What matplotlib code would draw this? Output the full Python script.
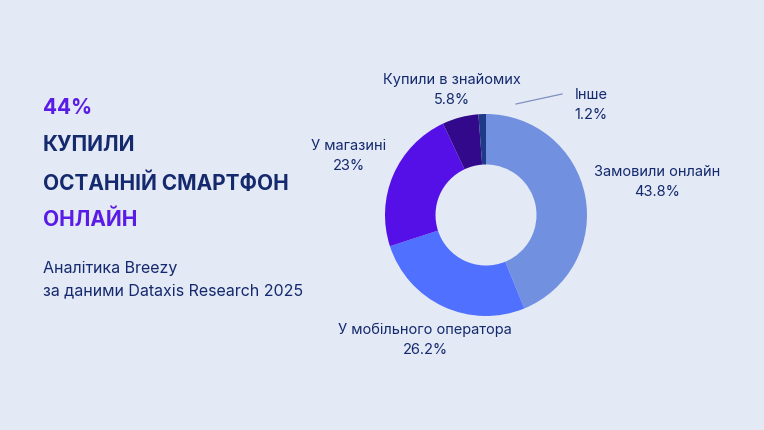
import matplotlib
matplotlib.use("Agg")
import matplotlib.pyplot as plt

# ---------------------------------------------------------------
# Дані
# ---------------------------------------------------------------
channels = ["Замовили онлайн", "У мобільного оператора", "У магазині",
            "Купили в знайомих", "Інше"]
shares = [43.8, 26.2, 23.0, 5.8, 1.2]
share_labels = ["43.8%", "26.2%", "23%", "5.8%", "1.2%"]

headline_pct = "44%"
headline_lines = ["КУПИЛИ", "ОСТАННІЙ СМАРТФОН"]
headline_tail = "ОНЛАЙН"
source_lines = ["Аналітика Breezy", "за даними Dataxis Research 2025"]

# ---------------------------------------------------------------
# Стиль
# ---------------------------------------------------------------
BG = "#E4EAF5"
NAVY = "#14296E"
PURPLE = "#5A1BE6"
SLICE_COLORS = ["#7290E0", "#5070FF", "#5410E6", "#33098C", "#1F3A86"]

plt.rcParams["font.family"] = ["Inter", "DejaVu Sans"]

W, H = 764, 430
fig = plt.figure(figsize=(W / 100, H / 100), dpi=100, facecolor=BG)

# пиріг: центр (486, 215) px, радіус 101 px
cx, cy, r = 486, 215, 101
ax = fig.add_axes([(cx - r) / W, (H - cy - r) / H, 2 * r / W, 2 * r / H])
ax.set_facecolor(BG)
ax.pie(shares, colors=SLICE_COLORS, startangle=90, counterclock=False,
       radius=1.0, wedgeprops=dict(width=0.5, linewidth=0))
ax.set_xlim(-1, 1)
ax.set_ylim(-1, 1)
ax.set_aspect("equal")
ax.axis("off")

# положення підписів (px від лівого верхнього кута)
label_pos = [(657, 182), (425, 340), (349, 156), (452, 90), (591, 105)]
for name, pct, (px, py) in zip(channels, share_labels, label_pos):
    fig.text(px / W, 1 - py / H, f"{name}\n{pct}", ha="center", va="center",
             fontsize=10.5, color=NAVY, linespacing=1.55)

# лінія-виноска для «Інше»
fig.add_artist(plt.Line2D([516 / W, 562 / W], [1 - 104 / H, 1 - 94 / H],
                          color="#7F8FBF", lw=0.9))

# ---------------------------------------------------------------
# Лівий текстовий блок
# ---------------------------------------------------------------
x0 = 43 / W
fig.text(x0, 1 - 108 / H, headline_pct, ha="left", va="center",
         fontsize=15, fontweight="bold", color=PURPLE)
for i, line in enumerate(headline_lines):
    fig.text(x0, 1 - (145 + 38 * i) / H, line, ha="left", va="center",
             fontsize=15, fontweight="bold", color=NAVY)
fig.text(x0, 1 - 220 / H, headline_tail, ha="left", va="center",
         fontsize=15, fontweight="bold", color=PURPLE)
for i, line in enumerate(source_lines):
    fig.text(x0, 1 - (268 + 23 * i) / H, line, ha="left", va="center",
             fontsize=11.5, color=NAVY)

fig.savefig("out.png", dpi=100, facecolor=BG)
